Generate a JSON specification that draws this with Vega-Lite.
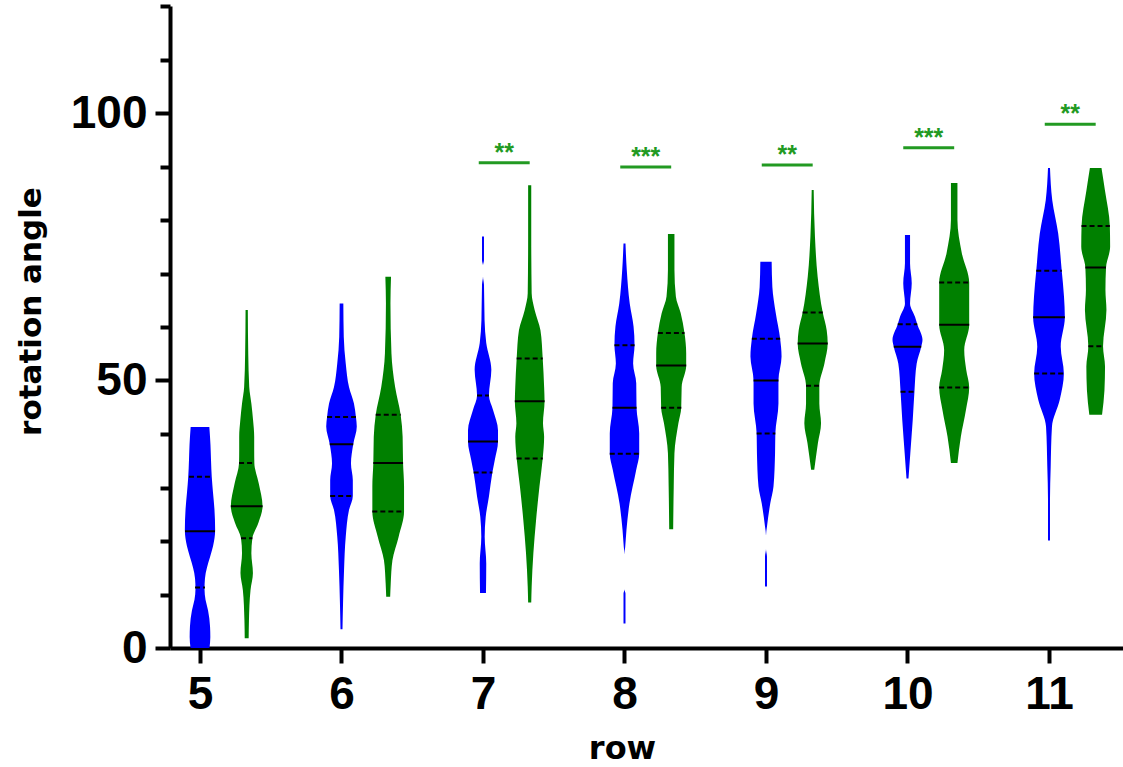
{
"$schema": "https://vega.github.io/schema/vega-lite/v6.json",
"width": 953, "height": 642,
"autosize": {"type": "none"},
"padding": {"left": 170, "top": 6, "right": 0, "bottom": 119},
"background": "white",
"config": {"view": {"stroke": null}, "axis": {"grid": false}},
"datasets": {
"outline": [
{"v":"b5","row":5,"group":"A","a":0,"w":0.067},{"v":"b5","row":5,"group":"A","a":2,"w":0.073},{"v":"b5","row":5,"group":"A","a":4,"w":0.071},{"v":"b5","row":5,"group":"A","a":7,"w":0.057},{"v":"b5","row":5,"group":"A","a":9,"w":0.039},{"v":"b5","row":5,"group":"A","a":11,"w":0.032},{"v":"b5","row":5,"group":"A","a":13,"w":0.035},{"v":"b5","row":5,"group":"A","a":15,"w":0.049},{"v":"b5","row":5,"group":"A","a":17,"w":0.071},{"v":"b5","row":5,"group":"A","a":19,"w":0.092},{"v":"b5","row":5,"group":"A","a":22,"w":0.107},{"v":"b5","row":5,"group":"A","a":26,"w":0.102},{"v":"b5","row":5,"group":"A","a":29,"w":0.092},{"v":"b5","row":5,"group":"A","a":32,"w":0.083},{"v":"b5","row":5,"group":"A","a":35,"w":0.078},{"v":"b5","row":5,"group":"A","a":38,"w":0.074},{"v":"b5","row":5,"group":"A","a":41.3,"w":0.066},
{"v":"g5","row":5,"group":"B","a":1.8,"w":0.014},{"v":"g5","row":5,"group":"B","a":5.2,"w":0.016},{"v":"g5","row":5,"group":"B","a":10.8,"w":0.027},{"v":"g5","row":5,"group":"B","a":14,"w":0.044},{"v":"g5","row":5,"group":"B","a":17.7,"w":0.033},{"v":"g5","row":5,"group":"B","a":20.5,"w":0.04},{"v":"g5","row":5,"group":"B","a":23.4,"w":0.083},{"v":"g5","row":5,"group":"B","a":26.5,"w":0.112},{"v":"g5","row":5,"group":"B","a":30.8,"w":0.085},{"v":"g5","row":5,"group":"B","a":34.6,"w":0.054},{"v":"g5","row":5,"group":"B","a":37,"w":0.053},{"v":"g5","row":5,"group":"B","a":39.5,"w":0.053},{"v":"g5","row":5,"group":"B","a":42.6,"w":0.045},{"v":"g5","row":5,"group":"B","a":45.7,"w":0.033},{"v":"g5","row":5,"group":"B","a":48.8,"w":0.018},{"v":"g5","row":5,"group":"B","a":55,"w":0.011},{"v":"g5","row":5,"group":"B","a":63.2,"w":0.008},
{"v":"b6","row":6,"group":"A","a":3.5,"w":0.007},{"v":"b6","row":6,"group":"A","a":8.4,"w":0.011},{"v":"b6","row":6,"group":"A","a":14.6,"w":0.018},{"v":"b6","row":6,"group":"A","a":20.8,"w":0.03},{"v":"b6","row":6,"group":"A","a":25.8,"w":0.053},{"v":"b6","row":6,"group":"A","a":28.4,"w":0.08},{"v":"b6","row":6,"group":"A","a":31.4,"w":0.08},{"v":"b6","row":6,"group":"A","a":34.5,"w":0.067},{"v":"b6","row":6,"group":"A","a":38.1,"w":0.083},{"v":"b6","row":6,"group":"A","a":41.4,"w":0.108},{"v":"b6","row":6,"group":"A","a":43.2,"w":0.102},{"v":"b6","row":6,"group":"A","a":45.7,"w":0.088},{"v":"b6","row":6,"group":"A","a":48.8,"w":0.053},{"v":"b6","row":6,"group":"A","a":53.2,"w":0.03},{"v":"b6","row":6,"group":"A","a":58.2,"w":0.016},{"v":"b6","row":6,"group":"A","a":64.4,"w":0.013},
{"v":"g6","row":6,"group":"B","a":9.6,"w":0.014},{"v":"g6","row":6,"group":"B","a":12.1,"w":0.018},{"v":"g6","row":6,"group":"B","a":16.4,"w":0.03},{"v":"g6","row":6,"group":"B","a":20.8,"w":0.074},{"v":"g6","row":6,"group":"B","a":25.5,"w":0.112},{"v":"g6","row":6,"group":"B","a":30.2,"w":0.112},{"v":"g6","row":6,"group":"B","a":34.6,"w":0.105},{"v":"g6","row":6,"group":"B","a":39.5,"w":0.102},{"v":"g6","row":6,"group":"B","a":43.6,"w":0.088},{"v":"g6","row":6,"group":"B","a":48.8,"w":0.049},{"v":"g6","row":6,"group":"B","a":55.1,"w":0.023},{"v":"g6","row":6,"group":"B","a":64.4,"w":0.016},{"v":"g6","row":6,"group":"B","a":69.4,"w":0.02},
{"v":"b7","row":7,"group":"A","a":10.3,"w":0.021},{"v":"b7","row":7,"group":"A","a":15.8,"w":0.023},{"v":"b7","row":7,"group":"A","a":20.8,"w":0.012},{"v":"b7","row":7,"group":"A","a":24.5,"w":0.019},{"v":"b7","row":7,"group":"A","a":28.3,"w":0.042},{"v":"b7","row":7,"group":"A","a":32.8,"w":0.066},{"v":"b7","row":7,"group":"A","a":35.1,"w":0.083},{"v":"b7","row":7,"group":"A","a":38.6,"w":0.106},{"v":"b7","row":7,"group":"A","a":40.7,"w":0.106},{"v":"b7","row":7,"group":"A","a":44.5,"w":0.071},{"v":"b7","row":7,"group":"A","a":47.2,"w":0.042},{"v":"b7","row":7,"group":"A","a":52,"w":0.059},{"v":"b7","row":7,"group":"A","a":57,"w":0.023},{"v":"b7","row":7,"group":"A","a":61.3,"w":0.011},{"v":"b7","row":7,"group":"A","a":67.9,"w":0.007},{"v":"b7","row":7,"group":"A","a":69.5,"w":0},{"v":"b7","row":7,"group":"A","a":71.5,"w":0},{"v":"b7","row":7,"group":"A","a":72.5,"w":0.007},{"v":"b7","row":7,"group":"A","a":76.9,"w":0.007},
{"v":"g7","row":7,"group":"B","a":8.5,"w":0.011},{"v":"g7","row":7,"group":"B","a":11.5,"w":0.014},{"v":"g7","row":7,"group":"B","a":17.7,"w":0.026},{"v":"g7","row":7,"group":"B","a":23.9,"w":0.045},{"v":"g7","row":7,"group":"B","a":30.2,"w":0.069},{"v":"g7","row":7,"group":"B","a":35.4,"w":0.092},{"v":"g7","row":7,"group":"B","a":39.5,"w":0.102},{"v":"g7","row":7,"group":"B","a":42,"w":0.094},{"v":"g7","row":7,"group":"B","a":46.1,"w":0.105},{"v":"g7","row":7,"group":"B","a":48.8,"w":0.102},{"v":"g7","row":7,"group":"B","a":54.1,"w":0.092},{"v":"g7","row":7,"group":"B","a":59.4,"w":0.076},{"v":"g7","row":7,"group":"B","a":63.2,"w":0.035},{"v":"g7","row":7,"group":"B","a":66.3,"w":0.014},{"v":"g7","row":7,"group":"B","a":76.9,"w":0.011},{"v":"g7","row":7,"group":"B","a":86.5,"w":0.011},
{"v":"b8","row":8,"group":"A","a":4.6,"w":0.007},{"v":"b8","row":8,"group":"A","a":10.2,"w":0.007},{"v":"b8","row":8,"group":"A","a":11,"w":0},{"v":"b8","row":8,"group":"A","a":17.5,"w":0},{"v":"b8","row":8,"group":"A","a":18.9,"w":0.005},{"v":"b8","row":8,"group":"A","a":22.1,"w":0.014},{"v":"b8","row":8,"group":"A","a":27,"w":0.035},{"v":"b8","row":8,"group":"A","a":33.3,"w":0.083},{"v":"b8","row":8,"group":"A","a":36.3,"w":0.104},{"v":"b8","row":8,"group":"A","a":40.1,"w":0.104},{"v":"b8","row":8,"group":"A","a":44.9,"w":0.085},{"v":"b8","row":8,"group":"A","a":49.5,"w":0.083},{"v":"b8","row":8,"group":"A","a":53.2,"w":0.061},{"v":"b8","row":8,"group":"A","a":56.6,"w":0.071},{"v":"b8","row":8,"group":"A","a":60.1,"w":0.064},{"v":"b8","row":8,"group":"A","a":64.4,"w":0.037},{"v":"b8","row":8,"group":"A","a":70.7,"w":0.016},{"v":"b8","row":8,"group":"A","a":75.6,"w":0.007},
{"v":"g8","row":8,"group":"B","a":22.2,"w":0.014},{"v":"g8","row":8,"group":"B","a":30.2,"w":0.018},{"v":"g8","row":8,"group":"B","a":36.4,"w":0.023},{"v":"g8","row":8,"group":"B","a":42,"w":0.051},{"v":"g8","row":8,"group":"B","a":44.9,"w":0.071},{"v":"g8","row":8,"group":"B","a":48.8,"w":0.074},{"v":"g8","row":8,"group":"B","a":52.8,"w":0.106},{"v":"g8","row":8,"group":"B","a":55.1,"w":0.106},{"v":"g8","row":8,"group":"B","a":58.9,"w":0.094},{"v":"g8","row":8,"group":"B","a":62.6,"w":0.067},{"v":"g8","row":8,"group":"B","a":65.7,"w":0.033},{"v":"g8","row":8,"group":"B","a":70.7,"w":0.023},{"v":"g8","row":8,"group":"B","a":77.4,"w":0.023},
{"v":"b9","row":9,"group":"A","a":11.5,"w":0.007},{"v":"b9","row":9,"group":"A","a":17.1,"w":0.007},{"v":"b9","row":9,"group":"A","a":18.5,"w":0},{"v":"b9","row":9,"group":"A","a":21,"w":0},{"v":"b9","row":9,"group":"A","a":22.7,"w":0.007},{"v":"b9","row":9,"group":"A","a":27,"w":0.03},{"v":"b9","row":9,"group":"A","a":30.2,"w":0.053},{"v":"b9","row":9,"group":"A","a":36.4,"w":0.064},{"v":"b9","row":9,"group":"A","a":40.1,"w":0.066},{"v":"b9","row":9,"group":"A","a":45.7,"w":0.088},{"v":"b9","row":9,"group":"A","a":50,"w":0.088},{"v":"b9","row":9,"group":"A","a":54.5,"w":0.11},{"v":"b9","row":9,"group":"A","a":57.8,"w":0.1},{"v":"b9","row":9,"group":"A","a":62.6,"w":0.069},{"v":"b9","row":9,"group":"A","a":67.5,"w":0.045},{"v":"b9","row":9,"group":"A","a":72.2,"w":0.04},
{"v":"g9","row":9,"group":"B","a":33.3,"w":0.011},{"v":"g9","row":9,"group":"B","a":38.3,"w":0.037},{"v":"g9","row":9,"group":"B","a":42,"w":0.059},{"v":"g9","row":9,"group":"B","a":45.7,"w":0.047},{"v":"g9","row":9,"group":"B","a":49,"w":0.047},{"v":"g9","row":9,"group":"B","a":53.2,"w":0.083},{"v":"g9","row":9,"group":"B","a":56.9,"w":0.106},{"v":"g9","row":9,"group":"B","a":59.4,"w":0.099},{"v":"g9","row":9,"group":"B","a":62.7,"w":0.071},{"v":"g9","row":9,"group":"B","a":69.4,"w":0.035},{"v":"g9","row":9,"group":"B","a":76.9,"w":0.016},{"v":"g9","row":9,"group":"B","a":85.6,"w":0.007},
{"v":"b10","row":10,"group":"A","a":31.7,"w":0.007},{"v":"b10","row":10,"group":"A","a":36.4,"w":0.02},{"v":"b10","row":10,"group":"A","a":42.6,"w":0.037},{"v":"b10","row":10,"group":"A","a":47.9,"w":0.049},{"v":"b10","row":10,"group":"A","a":53.2,"w":0.065},{"v":"b10","row":10,"group":"A","a":56.3,"w":0.097},{"v":"b10","row":10,"group":"A","a":57.6,"w":0.106},{"v":"b10","row":10,"group":"A","a":60.5,"w":0.069},{"v":"b10","row":10,"group":"A","a":61.9,"w":0.053},{"v":"b10","row":10,"group":"A","a":64.4,"w":0.018},{"v":"b10","row":10,"group":"A","a":68.2,"w":0.03},{"v":"b10","row":10,"group":"A","a":71.9,"w":0.018},{"v":"b10","row":10,"group":"A","a":77.2,"w":0.018},
{"v":"g10","row":10,"group":"B","a":34.6,"w":0.023},{"v":"g10","row":10,"group":"B","a":39.5,"w":0.047},{"v":"g10","row":10,"group":"B","a":44.5,"w":0.083},{"v":"g10","row":10,"group":"B","a":48.7,"w":0.106},{"v":"g10","row":10,"group":"B","a":52,"w":0.085},{"v":"g10","row":10,"group":"B","a":55.7,"w":0.071},{"v":"g10","row":10,"group":"B","a":60.4,"w":0.106},{"v":"g10","row":10,"group":"B","a":64.4,"w":0.106},{"v":"g10","row":10,"group":"B","a":68.3,"w":0.106},{"v":"g10","row":10,"group":"B","a":73.8,"w":0.054},{"v":"g10","row":10,"group":"B","a":80,"w":0.023},{"v":"g10","row":10,"group":"B","a":86.9,"w":0.023},
{"v":"b11","row":11,"group":"A","a":20.1,"w":0.007},{"v":"b11","row":11,"group":"A","a":27.7,"w":0.007},{"v":"b11","row":11,"group":"A","a":33.9,"w":0.012},{"v":"b11","row":11,"group":"A","a":41.4,"w":0.021},{"v":"b11","row":11,"group":"A","a":46.4,"w":0.076},{"v":"b11","row":11,"group":"A","a":51.3,"w":0.105},{"v":"b11","row":11,"group":"A","a":56.3,"w":0.083},{"v":"b11","row":11,"group":"A","a":61.8,"w":0.112},{"v":"b11","row":11,"group":"A","a":65.7,"w":0.106},{"v":"b11","row":11,"group":"A","a":70.5,"w":0.09},{"v":"b11","row":11,"group":"A","a":77.5,"w":0.065},{"v":"b11","row":11,"group":"A","a":83.7,"w":0.023},{"v":"b11","row":11,"group":"A","a":89.7,"w":0.007},
{"v":"g11","row":11,"group":"B","a":43.6,"w":0.045},{"v":"g11","row":11,"group":"B","a":48.2,"w":0.062},{"v":"g11","row":11,"group":"B","a":52.6,"w":0.066},{"v":"g11","row":11,"group":"B","a":56.4,"w":0.052},{"v":"g11","row":11,"group":"B","a":63.2,"w":0.076},{"v":"g11","row":11,"group":"B","a":66.9,"w":0.069},{"v":"g11","row":11,"group":"B","a":71.1,"w":0.073},{"v":"g11","row":11,"group":"B","a":75,"w":0.102},{"v":"g11","row":11,"group":"B","a":78.9,"w":0.1},{"v":"g11","row":11,"group":"B","a":85.6,"w":0.065},{"v":"g11","row":11,"group":"B","a":89.7,"w":0.041}
],
"quart": [
{"row":5,"group":"A","kind":"quartile","a":11.3,"w":0.035},{"row":5,"group":"A","kind":"median","a":21.8,"w":0.106},{"row":5,"group":"A","kind":"quartile","a":32.0,"w":0.078},
{"row":5,"group":"B","kind":"quartile","a":20.5,"w":0.04},{"row":5,"group":"B","kind":"median","a":26.5,"w":0.112},{"row":5,"group":"B","kind":"quartile","a":34.6,"w":0.054},
{"row":6,"group":"A","kind":"quartile","a":28.4,"w":0.08},{"row":6,"group":"A","kind":"median","a":38.1,"w":0.083},{"row":6,"group":"A","kind":"quartile","a":43.2,"w":0.102},
{"row":6,"group":"B","kind":"quartile","a":25.5,"w":0.112},{"row":6,"group":"B","kind":"median","a":34.6,"w":0.105},{"row":6,"group":"B","kind":"quartile","a":43.6,"w":0.088},
{"row":7,"group":"A","kind":"quartile","a":32.8,"w":0.066},{"row":7,"group":"A","kind":"median","a":38.6,"w":0.106},{"row":7,"group":"A","kind":"quartile","a":47.2,"w":0.042},
{"row":7,"group":"B","kind":"quartile","a":35.4,"w":0.092},{"row":7,"group":"B","kind":"median","a":46.1,"w":0.105},{"row":7,"group":"B","kind":"quartile","a":54.1,"w":0.092},
{"row":8,"group":"A","kind":"quartile","a":36.3,"w":0.104},{"row":8,"group":"A","kind":"median","a":44.9,"w":0.085},{"row":8,"group":"A","kind":"quartile","a":56.6,"w":0.071},
{"row":8,"group":"B","kind":"quartile","a":44.9,"w":0.071},{"row":8,"group":"B","kind":"median","a":52.8,"w":0.106},{"row":8,"group":"B","kind":"quartile","a":58.9,"w":0.094},
{"row":9,"group":"A","kind":"quartile","a":40.1,"w":0.066},{"row":9,"group":"A","kind":"median","a":50.0,"w":0.088},{"row":9,"group":"A","kind":"quartile","a":57.8,"w":0.1},
{"row":9,"group":"B","kind":"quartile","a":49.0,"w":0.047},{"row":9,"group":"B","kind":"median","a":56.9,"w":0.106},{"row":9,"group":"B","kind":"quartile","a":62.7,"w":0.071},
{"row":10,"group":"A","kind":"quartile","a":47.9,"w":0.049},{"row":10,"group":"A","kind":"median","a":56.3,"w":0.097},{"row":10,"group":"A","kind":"quartile","a":60.5,"w":0.069},
{"row":10,"group":"B","kind":"quartile","a":48.7,"w":0.106},{"row":10,"group":"B","kind":"median","a":60.4,"w":0.106},{"row":10,"group":"B","kind":"quartile","a":68.3,"w":0.106},
{"row":11,"group":"A","kind":"quartile","a":51.3,"w":0.105},{"row":11,"group":"A","kind":"median","a":61.8,"w":0.112},{"row":11,"group":"A","kind":"quartile","a":70.5,"w":0.09},
{"row":11,"group":"B","kind":"quartile","a":56.4,"w":0.052},{"row":11,"group":"B","kind":"median","a":71.1,"w":0.073},{"row":11,"group":"B","kind":"quartile","a":78.9,"w":0.1}
],
"sig": [
{"row":7,"a":90.7,"label":"**"},
{"row":8,"a":89.9,"label":"***"},
{"row":9,"a":90.3,"label":"**"},
{"row":10,"a":93.5,"label":"***"},
{"row":11,"a":97.9,"label":"**"}
]
},
"layer": [
{
"data": {"name": "outline"},
"transform": [
{"calculate": "datum.row + (datum.group === 'B' ? 0.33 : 0)", "as": "c"},
{"calculate": "datum.c - datum.w", "as": "xl"},
{"calculate": "datum.c + datum.w", "as": "xr"}
],
"mark": {"type": "area", "orient": "horizontal", "interpolate": "monotone"},
"encoding": {
"y": {"field": "a", "type": "quantitative", "scale": {"domain": [0, 120], "nice": false, "zero": false},
"axis": {"values": [0,10,20,30,40,50,60,70,80,90,100,110,120],
"labelExpr": "datum.value % 50 === 0 ? datum.label : ''",
"tickSize": {"condition": {"test": "datum.value % 50 === 0", "value": 15}, "value": 10},
"tickWidth": 4, "tickColor": "black", "domainColor": "black", "domainWidth": 4,
"labelFont": "Liberation Sans", "labelFontSize": 46, "labelFontWeight": "bold", "labelColor": "black", "labelPadding": 8,
"title": "rotation angle", "titleFont": "DejaVu Sans", "titleFontSize": 31, "titleFontWeight": "bold", "titleColor": "black",
"titleAngle": -90, "titleAlign": "center", "titleBaseline": "alphabetic", "titleX": -130, "titleY": 305}},
"x": {"field": "xl", "type": "quantitative", "scale": {"domain": [4.788, 11.523], "nice": false, "zero": false},
"axis": {"values": [5,6,7,8,9,10,11], "format": "d",
"tickSize": 15, "tickWidth": 4, "tickColor": "black", "domainColor": "black", "domainWidth": 4,
"labelFont": "Liberation Sans", "labelFontSize": 46, "labelFontWeight": "bold", "labelColor": "black", "labelPadding": 9,
"title": "row", "titleFont": "DejaVu Sans", "titleFontSize": 32, "titleFontWeight": "bold", "titleColor": "black",
"titleX": 452, "titleY": 110, "titleBaseline": "alphabetic", "titleAlign": "center"}},
"x2": {"field": "xr"},
"detail": {"field": "v", "type": "nominal"},
"color": {"field": "group", "type": "nominal", "scale": {"domain": ["A", "B"], "range": ["#0000ff", "#008000"]}, "legend": null}
}
},
{
"data": {"name": "quart"},
"transform": [
{"calculate": "datum.row + (datum.group === 'B' ? 0.33 : 0)", "as": "c"},
{"calculate": "datum.c - datum.w", "as": "xl"},
{"calculate": "datum.c + datum.w", "as": "xr"}
],
"mark": {"type": "rule", "color": "black", "strokeWidth": 2},
"encoding": {
"y": {"field": "a", "type": "quantitative"},
"x": {"field": "xl", "type": "quantitative"},
"x2": {"field": "xr"},
"strokeDash": {"field": "kind", "type": "nominal", "scale": {"domain": ["median", "quartile"], "range": [[1, 0], [5, 3]]}, "legend": null}
}
},
{
"data": {"name": "sig"},
"transform": [
{"calculate": "datum.row - 0.03", "as": "xl"},
{"calculate": "datum.row + 0.33", "as": "xr"}
],
"mark": {"type": "rule", "color": "#229a22", "strokeWidth": 3},
"encoding": {
"y": {"field": "a", "type": "quantitative"},
"x": {"field": "xl", "type": "quantitative"},
"x2": {"field": "xr"}
}
},
{
"data": {"name": "sig"},
"transform": [
{"calculate": "datum.row + 0.15", "as": "xm"}
],
"mark": {"type": "text", "color": "#229a22", "font": "Liberation Sans", "fontSize": 25, "fontWeight": "bold", "baseline": "alphabetic", "align": "center", "dy": -2},
"encoding": {
"y": {"field": "a", "type": "quantitative"},
"x": {"field": "xm", "type": "quantitative"},
"text": {"field": "label"}
}
}
]
}
